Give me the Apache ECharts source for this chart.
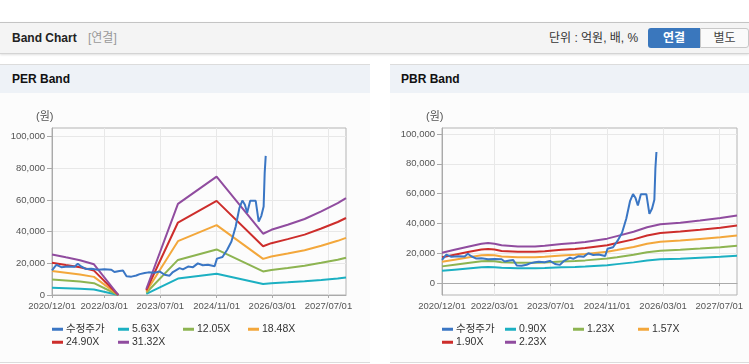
<!DOCTYPE html>
<html><head><meta charset="utf-8">
<script src="https://cdn.jsdelivr.net/npm/echarts@6/dist/echarts.min.js"></script>
<style>
body{margin:0;width:749px;height:364px;overflow:hidden;background:#fff;font-family:'Liberation Sans','Noto Sans CJK KR',sans-serif;position:relative}
.a{position:absolute}
#hdr{left:0;top:22px;width:749px;height:30px;background:#f4f4f4;border-top:1px solid #c4c4c4;border-bottom:1px solid #d4d4d4;box-shadow:0 1px 2px rgba(0,0,0,0.12)}
#ttl{left:12px;top:0;line-height:30px;font-size:12px;font-weight:bold;color:#222}
#sub{left:88px;top:0;line-height:30px;font-size:12px;color:#999}
#unit{left:549px;top:0;line-height:30px;font-size:12px;color:#333}
#b1{left:648px;top:5px;width:52px;height:20px;line-height:20px;text-align:center;font-size:12px;font-weight:bold;color:#fff;background:#3a77bd;border-radius:3px 0 0 3px}
#b2{left:700px;top:5px;width:47px;height:18px;line-height:18px;text-align:center;font-size:12px;color:#444;background:#fafafa;border:1px solid #c8c8c8;border-radius:0 3px 3px 0}
.ph{top:64px;height:28px;background:#eef2f7;border-top:1px solid #dcdcdc;font-size:12px;font-weight:bold;color:#111;line-height:28px}
.pb{top:93px;height:269px;background:#fcfcfc;border-bottom:1px solid #dcdcdc}
</style></head>
<body>
<div id="hdr" class="a">
  <div id="ttl" class="a">Band Chart</div>
  <div id="sub" class="a">[연결]</div>
  <div id="unit" class="a">단위 : 억원, 배, %</div>
  <div id="b1" class="a">연결</div>
  <div id="b2" class="a">별도</div>
</div>
<div class="a ph" style="left:0;width:370px"><span style="margin-left:12px">PER Band</span></div>
<div class="a ph" style="left:390px;width:359px"><span style="margin-left:11px">PBR Band</span></div>
<div class="a pb" style="left:0;width:370px"></div>
<div class="a pb" style="left:390px;width:359px"></div>
<div id="per" class="a" style="left:0;top:93px;width:370px;height:269px"></div>
<div id="pbr" class="a" style="left:390px;top:93px;width:359px;height:269px"></div>
<script>
// ---------- data ----------
const xTickLabels = ['2020/12/01','2022/03/01','2023/07/01','2024/11/01','2026/03/01','2027/07/01'];
const yTickValues = [0, 20000, 40000, 60000, 80000, 100000];
const xStart = '2020-12-01';
const xEnd = '2027-12-01';

const priceName = '수정주가';
const priceDates = ['2020-12-01','2021-01-08','2021-02-20','2021-04-18','2021-06-15','2021-07-13','2021-08-12','2021-09-25','2021-11-08','2022-01-04','2022-03-01','2022-05-01','2022-05-28','2022-07-10','2022-08-10','2022-09-10','2022-10-22','2022-12-04','2023-01-02','2023-02-15','2023-03-20','2023-05-10','2023-06-24','2023-08-07','2023-09-19','2023-10-18','2023-12-15','2024-01-13','2024-02-27','2024-04-10','2024-05-22','2024-07-04','2024-08-18','2024-10-15','2024-11-04','2024-12-22','2025-02-01','2025-03-10','2025-04-16','2025-05-18','2025-06-13','2025-07-05','2025-07-25','2025-08-20','2025-10-07','2025-11-02','2025-11-25','2025-12-15','2025-12-24','2026-01-02'];
const priceValues = [15500,19100,17600,18000,17800,19700,18000,16400,16600,16000,16200,16000,14500,15200,15500,11800,11600,12300,13200,13900,14300,14000,14900,12800,12200,14500,17000,16200,18000,17600,20000,18800,19100,18200,23000,24000,28600,33800,43300,54900,59700,57000,52000,59500,59500,46400,50000,55900,77000,87900];

const perNames = ['5.63X','12.05X','18.48X','24.90X','31.32X'];
const perDates = ['2020-12-01','2021-04-01','2021-08-01','2021-12-01','2022-07-01','2022-11-01','2023-03-01','2023-12-01','2024-11-01','2025-12-10','2026-02-20','2026-07-12','2026-12-06','2027-04-30','2027-09-20','2027-12-01'];
const per563  = [4600, 4280, 3950, 3490, 0, null, 680, 10350, 13450, 6960, 7410, 7980, 8630, 9490, 10430, 11000];
const per1205 = [9850, 9160, 8460, 7460, 0, null, 1460, 22160, 28780, 14890, 15850, 17080, 18470, 20310, 22310, 23550];
const per1848 = [15100, 14040, 12980, 11450, 0, null, 2240, 33990, 44130, 22830, 24310, 26200, 28320, 31150, 34220, 36110];
const per2490 = [20350, 18920, 17490, 15420, 0, null, 3020, 45790, 59470, 30770, 32750, 35300, 38160, 41980, 46110, 48650];
const per3132 = [25600, 23800, 22000, 19400, 0, null, 3800, 57600, 74800, 38700, 41200, 44400, 48000, 52800, 58000, 61200];

const pbrNames = ['0.90X','1.23X','1.57X','1.90X','2.23X'];
const pbrDates = ['2020-12-01','2021-03-20','2021-07-13','2021-11-08','2022-01-04','2022-03-01','2022-05-01','2022-09-20','2023-02-15','2023-05-10','2023-10-03','2024-01-28','2024-04-25','2024-11-01','2025-01-25','2025-06-18','2025-10-13','2026-02-05','2026-07-28','2027-01-15','2027-07-10','2027-12-01'];
const pbr090 = [8190, 9000, 9850, 10650, 10820, 10650, 10210, 9930, 9930, 10090, 10570, 10860, 11140, 12030, 12710, 13880, 15090, 15900, 16350, 16950, 17600, 18280];
const pbr123 = [11200, 12300, 13460, 14560, 14780, 14560, 13950, 13570, 13570, 13790, 14450, 14840, 15220, 16440, 17370, 18970, 20630, 21730, 22340, 23170, 24050, 24990];
const pbr157 = [14290, 15700, 17180, 18590, 18870, 18590, 17810, 17320, 17320, 17600, 18450, 18940, 19430, 20980, 22180, 24220, 26330, 27740, 28510, 29570, 30700, 31890];
const pbr190 = [17300, 19000, 20790, 22490, 22830, 22490, 21560, 20960, 20960, 21300, 22320, 22920, 23520, 25390, 26840, 29310, 31870, 33570, 34510, 35780, 37150, 38600];
const pbr223 = [20300, 22300, 24400, 26400, 26800, 26400, 25300, 24600, 24600, 25000, 26200, 26900, 27600, 29800, 31500, 34400, 37400, 39400, 40500, 42000, 43600, 45300];

// ---------- styling ----------
const colors = ['#3a76c4', '#1cb0c2', '#8db451', '#f3a73b', '#cd2d2b', '#904c9f'];
const FONT = "'Liberation Sans','Noto Sans CJK KR',sans-serif";

function toTs(s){ const p = s.split(/[\/-]/).map(Number); return new Date(p[0], p[1]-1, p[2]).getTime(); }
function pad(n){ return (n<10?'0':'')+n; }
function fmtDate(v){ const d = new Date(v); return d.getFullYear()+'/'+pad(d.getMonth()+1)+'/'+pad(d.getDate()); }
function zip(dates, vals){ return dates.map((d,i)=>[toTs(d), vals[i]]); }

function build(cfg){
  const names = [priceName].concat(cfg.names);
  const series = [{name: priceName, data: zip(priceDates, priceValues)}]
    .concat(cfg.bands.map((b,i)=>({name: cfg.names[i], data: zip(cfg.dates, b)})))
    .map((s,i)=>Object.assign(s, {type:'line', showSymbol:false, symbol:'none', connectNulls:false,
      lineStyle:{width:2, color:colors[i]}, itemStyle:{color:colors[i]}, z: i===0?3:2}));
  const xTicks = xTickLabels.map(toTs);
  const legends = names.map((n,i)=>({
    data:[n], left: cfg.legendPos[i][0], top: cfg.legendPos[i][1], icon:'rect', itemWidth:11, itemHeight:3,
    padding:0, selectedMode:false, textStyle:{fontSize:10.5, color:'#333', fontFamily:FONT, padding:[0,0,0,-2]}
  }));
  return {
    animation:false,
    color: colors,
    textStyle:{fontFamily:FONT},
    title:{text:'(원)', left:cfg.gridLeft-16, top:18, padding:0, textStyle:{fontSize:11, fontWeight:'normal', color:'#555', fontFamily:FONT}},
    grid:{left:cfg.gridLeft, top:35, width:cfg.gridWidth, height:167, show:true, borderColor:'#b4b4b4', borderWidth:1, backgroundColor:'transparent', containLabel:false},
    legend: legends,
    xAxis:{type:'value', min: toTs(xStart), max: toTs(xEnd), scale:true,
      axisLine:{show:true, lineStyle:{color:'#aaa'}},
      axisTick:{show:true, length:3, customValues: xTicks, lineStyle:{color:'#aaa'}},
      axisLabel:{customValues: xTicks, formatter: fmtDate, fontSize:9.5, color:'#555', margin:7, hideOverlap:false, fontFamily:FONT},
      splitLine:{show:true, lineStyle:{color:'#e8e8e8', width:1}}},
    yAxis:{type:'value', min: cfg.yMin, max: cfg.yMax,
      axisLine:{show:true, lineStyle:{color:'#aaa'}},
      axisTick:{show:true, length:5, customValues: yTickValues, lineStyle:{color:'#aaa'}},
      axisLabel:{customValues: yTickValues, formatter: v=>echarts.format.addCommas(v), fontSize:9.5, color:'#555', margin:7, fontFamily:FONT},
      splitLine:{show:true, lineStyle:{color:'#e8e8e8', width:1}}},
    series: series
  };
}

const perChart = echarts.init(document.getElementById('per'), null, {renderer:'canvas'});
perChart.setOption(build({
  names: perNames, dates: perDates, bands:[per563, per1205, per1848, per2490, per3132],
  yMin:0, yMax:105500, gridLeft:52, gridWidth:294,
  legendPos:[[52,231],[118,231],[183,231],[248,231],[52,244],[118,244]]
}));
const pbrChart = echarts.init(document.getElementById('pbr'), null, {renderer:'canvas'});
pbrChart.setOption(build({
  names: pbrNames, dates: pbrDates, bands:[pbr090, pbr123, pbr157, pbr190, pbr223],
  yMin:-8000, yMax:104000, gridLeft:52, gridWidth:295,
  legendPos:[[52,231],[115,231],[183,231],[248,231],[52,244],[115,244]]
}));
</script>
</body></html>
